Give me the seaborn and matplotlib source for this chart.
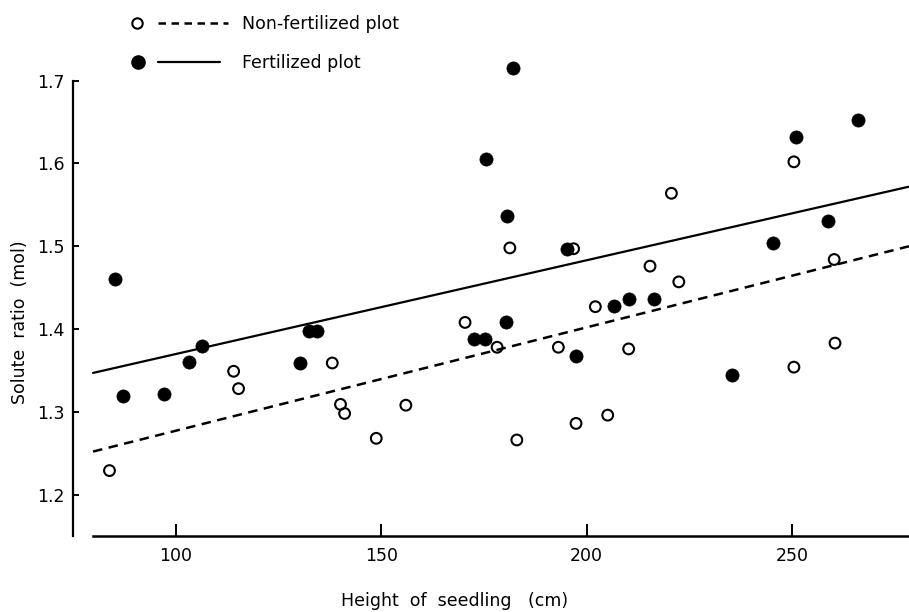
import matplotlib
matplotlib.use("Agg")
import matplotlib.pyplot as plt
from matplotlib.lines import Line2D
import seaborn as sns

# ---- data ----
nonfert_height = [83.9, 114.1, 115.3, 138.1, 140.1, 141.1, 148.8, 156.0, 170.4, 178.2,
                  181.3, 183.0, 193.1, 196.8, 197.4, 202.1, 205.1, 210.2, 215.4, 220.6,
                  222.4, 250.4, 250.4, 260.2, 260.4]
nonfert_ratio = [1.229, 1.349, 1.328, 1.359, 1.309, 1.298, 1.268, 1.308, 1.408, 1.378,
                 1.498, 1.266, 1.378, 1.497, 1.286, 1.427, 1.296, 1.376, 1.476, 1.564,
                 1.457, 1.602, 1.354, 1.484, 1.383]

fert_height = [85.2, 87.1, 97.1, 103.3, 106.3, 130.3, 132.4, 134.3, 172.6, 175.2,
               175.5, 180.4, 180.5, 182.1, 195.1, 197.4, 206.6, 210.2, 216.4, 235.3,
               245.3, 250.8, 258.6, 266.0]
fert_ratio = [1.460, 1.319, 1.322, 1.360, 1.380, 1.359, 1.398, 1.398, 1.388, 1.388,
              1.606, 1.409, 1.536, 1.715, 1.497, 1.368, 1.428, 1.436, 1.436, 1.345,
              1.504, 1.632, 1.530, 1.652]

# regression lines (end points)
fit_height = [79.9, 278.4]
fert_fit = [1.347, 1.572]
nonfert_fit = [1.252, 1.500]

x_ticks = [100, 150, 200, 250]
y_ticks = [1.2, 1.3, 1.4, 1.5, 1.6, 1.7]
x_label = "Height  of  seedling   (cm)"
y_label = "Solute  ratio  (mol)"
legend_labels = ["Non-fertilized plot", "Fertilized plot"]

# ---- style ----
sns.set_style("ticks")
plt.rcParams["font.family"] = ["DejaVu Sans"]
for key in ["text.color", "axes.labelcolor", "xtick.color", "ytick.color",
            "axes.edgecolor"]:
    plt.rcParams[key] = "black"

fig = plt.figure(figsize=(9.09, 6.12), dpi=100)
ax = fig.add_axes([73.3 / 909, 1 - 536 / 612, 1 - 73.3 / 909, (536 - 80.7) / 612])

sns.lineplot(x=fit_height, y=fert_fit, ax=ax, color="black", lw=1.6)
sns.lineplot(x=fit_height, y=nonfert_fit, ax=ax, color="black", lw=1.8,
             linestyle=(0, (3.8, 2.6)))

sns.scatterplot(x=nonfert_height, y=nonfert_ratio, ax=ax, marker="o", s=60,
                facecolor="none", edgecolor="black", linewidth=1.5,
                clip_on=False, zorder=3)
sns.scatterplot(x=fert_height, y=fert_ratio, ax=ax, marker="o", s=90,
                color="black", edgecolor="black", linewidth=0.5,
                clip_on=False, zorder=4)

ax.set_xlim(75.1, 278.4)
ax.set_ylim(1.15, 1.70)
ax.set_xticks(x_ticks)
ax.set_yticks(y_ticks)
ax.set_xticklabels([str(t) for t in x_ticks])
ax.set_yticklabels([f"{t:.1f}" for t in y_ticks])
ax.tick_params(axis="x", direction="in", length=9, width=1.4, labelsize=12.5, pad=8,
               colors="black")
ax.tick_params(axis="y", direction="in", length=4, width=1.4, labelsize=12.5, pad=6,
               colors="black")
ax.set_xlabel("")
ax.set_ylabel("")
for side in ["top", "right"]:
    ax.spines[side].set_visible(False)
ax.spines["left"].set_linewidth(1.6)
ax.spines["bottom"].set_linewidth(1.8)
ax.spines["left"].set_color("black")
ax.spines["bottom"].set_color("black")
ax.spines["bottom"].set_bounds(79.9, 278.4)

fig.text(455 / 909, 1 - 601 / 612, x_label, ha="center", va="center", fontsize=12.5,
         color="black")
fig.text(20 / 909, 1 - 322 / 612, y_label, ha="center", va="center",
         rotation=90, fontsize=12.5, color="black")

# ---- legend (manual, as in the original figure) ----
def fx(px):
    return px / 909

def fy(py):
    return 1 - py / 612

fig.add_artist(Line2D([fx(137)], [fy(23)], marker="o", markersize=7.5,
                      markerfacecolor="none", markeredgecolor="black",
                      markeredgewidth=1.5, linestyle="none"))
fig.add_artist(Line2D([fx(158), fx(228)], [fy(23), fy(23)], color="black",
                      lw=1.8, linestyle=(0, (3.0, 2.2))))
fig.text(fx(242), fy(29), legend_labels[0], fontsize=12.5, va="baseline",
         color="black")

fig.add_artist(Line2D([fx(138)], [fy(62)], marker="o", markersize=9.5,
                      markerfacecolor="black", markeredgecolor="black",
                      linestyle="none"))
fig.add_artist(Line2D([fx(158), fx(220)], [fy(62), fy(62)], color="black", lw=1.6))
fig.text(fx(242), fy(68), legend_labels[1], fontsize=12.5, va="baseline",
         color="black")

fig.savefig("out.png", dpi=100)
